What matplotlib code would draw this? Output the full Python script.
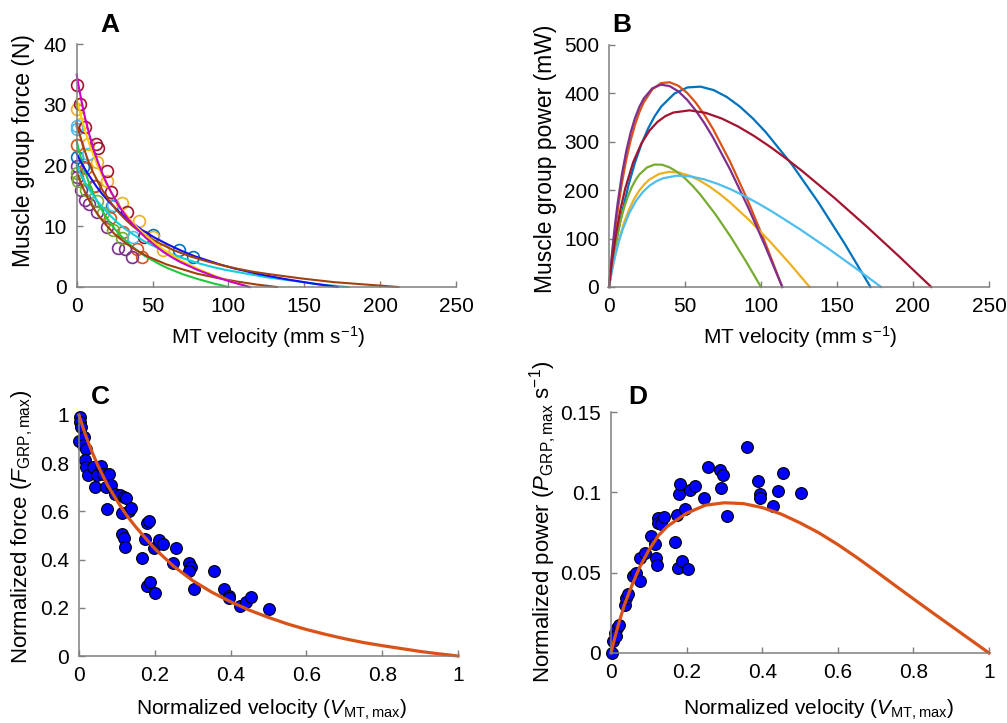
import matplotlib
matplotlib.use("Agg")
import matplotlib.pyplot as plt

plt.rcParams['font.family'] = ['Liberation Sans', 'DejaVu Sans']
plt.rcParams['mathtext.fontset'] = 'custom'
plt.rcParams['mathtext.rm'] = 'Liberation Sans'
plt.rcParams['mathtext.it'] = 'Liberation Sans:italic'
plt.rcParams['mathtext.bf'] = 'Liberation Sans:bold'

# ---------------- Panel A: measured points (velocity mm/s, force N) ----------------
circ_blue_v = [0, 4, 11.6, 23.1, 50.5, 67.5, 76.9]
circ_blue_f = [21.5, 19.8, 16.6, 13.3, 8.5, 6.1, 5.0]
circ_orange_v = [0, 6.2, 12.1, 22, 30.3, 39.6, 42.9]
circ_orange_f = [23.4, 19.6, 16.6, 11.3, 9.1, 6.2, 4.9]
circ_yellow_v = [0, 2.9, 7.7, 13.2, 20.2, 29.7, 41.3, 50.5, 57.1]
circ_yellow_f = [29.3, 26.8, 23.5, 20.6, 17.4, 13.8, 10.9, 8.3, 6.1]
circ_purple_v = [0, 0, 2.9, 5.5, 8.4, 13.2, 19.8, 27.5, 31.9, 36.3]
circ_purple_f = [19.9, 18.2, 16.0, 14.4, 13.7, 12.4, 9.9, 6.4, 6.2, 5.0]
circ_green_v = [0, 1.1, 6.2, 13.2, 17.6, 24.2, 29.7]
circ_green_f = [18.8, 17.4, 16.0, 14.1, 12.2, 9.4, 8.0]
circ_lblue_v = [0, 0, 7.7, 24.2, 37.4]
circ_lblue_f = [26.5, 26.0, 22.0, 13.5, 8.2]
circ_dred_v = [0.4, 2.2, 5.5, 12.7, 14.3, 19.8, 22.6, 33, 44.4]
circ_dred_f = [33.3, 30.1, 26.4, 23.6, 22.9, 19.2, 15.7, 12.4, 8.3]

# ---------------- Fitted curves: velocity samples, force (A) and power (B) ----------------
v_g1 = [0, 0.57, 1.14, 2.28, 3.99, 5.7, 8.55, 11.4, 14.25, 17.1, 19.95, 22.8, 28.5, 34.2,
        39.9, 45.6, 51.3, 57, 62.7, 68.4, 79.8, 91.2, 102.6, 114]
f_g1 = [35, 34.1, 33.3, 31.8, 29.6, 27.7, 24.9, 22.5, 20.4, 18.6, 17.0, 15.6, 13.1, 11.1,
        9.5, 8.1, 6.9, 5.8, 4.9, 4.1, 2.8, 1.7, 0.8, 0]
p_g1 = [0, 21.4, 41.7, 79.5, 129.8, 173.3, 233.7, 281.5, 319.3, 349.0, 371.9, 389.2, 410.5,
        418.0, 415.1, 404.2, 387.1, 364.9, 338.7, 309.1, 242.0, 166.8, 85.7, 0]

v_g2 = [0, 0.57, 1.14, 2.28, 3.99, 5.7, 8.55, 11.4, 14.25, 17.1, 19.95, 22.8, 28.5, 34.2,
        39.9, 45.6, 51.3, 57, 62.7, 68.4, 79.8, 91.2, 102.6, 114]
f_g2 = [31, 30.4, 29.8, 28.7, 27.1, 25.6, 23.4, 21.5, 19.7, 18.2, 16.8, 15.5, 13.3, 11.4,
        9.8, 8.5, 7.3, 6.2, 5.3, 4.4, 3.0, 1.8, 0.8, 0]
p_g2 = [0, 18.7, 36.6, 70.5, 116.5, 157.4, 215.8, 263.9, 303.2, 335.1, 360.8, 381.2, 408.4,
        421.3, 423.0, 415.8, 401.4, 381.2, 356.0, 326.7, 258.2, 179.4, 92.7, 0]

v_g3 = [0, 0.86, 1.72, 3.44, 6.02, 8.6, 12.9, 17.2, 21.5, 25.8, 30.1, 34.4, 43, 51.6, 60.2,
        68.8, 77.4, 86, 94.6, 103.2, 120.4, 137.6, 154.8, 172]
f_g3 = [22, 21.6, 21.1, 20.3, 19.2, 18.2, 16.6, 15.2, 14.0, 12.9, 11.9, 11.0, 9.4, 8.1, 7.0,
        6.0, 5.1, 4.4, 3.7, 3.1, 2.1, 1.3, 0.6, 0]
p_g3 = [0, 18.3, 35.9, 69.0, 114.0, 154.1, 211.2, 258.2, 296.7, 328.0, 353.1, 373.0, 399.6,
        412.3, 414.0, 406.9, 392.8, 373.0, 348.4, 319.7, 252.7, 175.5, 90.7, 0]

v_g4 = [0, 1.06, 2.12, 4.24, 7.42, 10.6, 15.9, 21.2, 26.5, 31.8, 37.1, 42.4, 53, 63.6, 74.2,
        84.8, 95.4, 106, 116.6, 127.2, 148.4, 169.6, 190.8, 212]
f_g4 = [27, 26.0, 25.0, 23.2, 20.9, 19.0, 16.4, 14.3, 12.6, 11.2, 10.0, 9.0, 7.4, 6.1, 5.1,
        4.3, 3.6, 3.0, 2.5, 2.1, 1.4, 0.8, 0.4, 0]
p_g4 = [0, 29.0, 55.5, 101.9, 158.3, 202.7, 257.7, 295.9, 322.6, 340.9, 353.1, 360.5, 365.0,
        359.8, 348.1, 331.8, 312.1, 289.7, 265.3, 239.3, 183.8, 124.8, 63.3, 0]

v_g5 = [0, 0.5, 1, 2, 3.5, 5, 7.5, 10, 12.5, 15, 17.5, 20, 25, 30, 35, 40, 45, 50, 55, 60,
        70, 80, 90, 100]
f_g5 = [24, 23.5, 23.0, 22.0, 20.6, 19.4, 17.6, 16.0, 14.6, 13.4, 12.3, 11.3, 9.6, 8.2, 7.0,
        6.0, 5.1, 4.4, 3.7, 3.1, 2.1, 1.3, 0.6, 0]
p_g5 = [0, 12.1, 23.6, 45.2, 74.3, 99.9, 135.7, 164.7, 187.9, 206.5, 221.1, 232.5, 247.0,
        253.0, 252.6, 247.0, 237.4, 224.5, 209.0, 191.2, 150.3, 104.0, 53.6, 0]

v_g6 = [0, 0.66, 1.32, 2.64, 4.62, 6.6, 9.9, 13.2, 16.5, 19.8, 23.1, 26.4, 33, 39.6, 46.2,
        52.8, 59.4, 66, 72.6, 79.2, 92.4, 105.6, 118.8, 132]
f_g6 = [19, 18.5, 18.1, 17.2, 16.1, 15.0, 13.5, 12.2, 11.1, 10.1, 9.2, 8.4, 7.1, 6.0, 5.1,
        4.4, 3.7, 3.2, 2.7, 2.2, 1.5, 0.9, 0.4, 0]
p_g6 = [0, 12.2, 23.7, 45.2, 73.9, 98.7, 133.1, 160.3, 181.8, 198.7, 211.7, 221.6, 233.7,
        238.0, 236.3, 230.1, 220.4, 207.7, 192.8, 176.0, 137.8, 95.0, 48.8, 0]

v_g7 = [0, 0.895, 1.79, 3.58, 6.265, 8.95, 13.425, 17.9, 22.375, 26.85, 31.325, 35.8, 44.75,
        53.7, 62.65, 71.6, 80.55, 89.5, 98.45, 107.4, 125.3, 143.2, 161.1, 179]
f_g7 = [20, 19.5, 19.0, 18.1, 16.9, 15.8, 14.2, 12.9, 11.7, 10.6, 9.7, 8.9, 7.5, 6.4, 5.4,
        4.6, 3.9, 3.3, 2.8, 2.4, 1.6, 1.0, 0.4, 0]
p_g7 = [0, 16.2, 31.2, 58.0, 91.5, 118.7, 153.4, 178.6, 196.7, 209.8, 218.9, 224.9, 230.0,
        228.5, 222.4, 213.0, 201.2, 187.4, 172.1, 155.7, 120.0, 81.8, 41.6, 0]

# ---------------- Panels C & D: normalized data ----------------
c_v = [0.002, 0.002, 0.004, 0.0, 0.012, 0.011, 0.019, 0.015, 0.018, 0.025, 0.041, 0.037,
       0.047, 0.059, 0.063, 0.079, 0.072, 0.085, 0.094, 0.107, 0.12, 0.125, 0.074, 0.113,
       0.132, 0.138, 0.113, 0.118, 0.121, 0.179, 0.184, 0.175, 0.197, 0.211, 0.221, 0.167,
       0.256, 0.249, 0.289, 0.296, 0.289, 0.179, 0.188, 0.201, 0.304, 0.355, 0.383, 0.395,
       0.396, 0.425, 0.44, 0.454, 0.5]
c_f = [0.99, 0.97, 0.95, 0.894, 0.908, 0.874, 0.86, 0.812, 0.785, 0.75, 0.702, 0.785,
       0.75, 0.79, 0.757, 0.757, 0.702, 0.709, 0.672, 0.668, 0.661, 0.654, 0.609, 0.595,
       0.602, 0.616, 0.506, 0.49, 0.451, 0.551, 0.562, 0.486, 0.45, 0.483, 0.465, 0.405,
       0.449, 0.387, 0.387, 0.37, 0.353, 0.291, 0.307, 0.261, 0.277, 0.354, 0.277, 0.25,
       0.239, 0.209, 0.225, 0.246, 0.195]

d_v = [0.002, 0.006, 0.011, 0.017, 0.022, 0.012, 0.037, 0.041, 0.046, 0.059, 0.067, 0.076,
       0.076, 0.089, 0.107, 0.116, 0.12, 0.122, 0.125, 0.125, 0.133, 0.139, 0.168, 0.177,
       0.189, 0.204, 0.175, 0.197, 0.179, 0.183, 0.21, 0.221, 0.247, 0.256, 0.289, 0.297,
       0.291, 0.307, 0.361, 0.388, 0.394, 0.394, 0.429, 0.443, 0.456, 0.503]
d_p = [0.0, 0.0073, 0.0124, 0.0156, 0.0176, 0.0104, 0.030, 0.034, 0.037, 0.0477, 0.0498, 0.0446,
       0.059, 0.062, 0.073, 0.068, 0.059, 0.055, 0.084, 0.081, 0.0805, 0.0849, 0.069, 0.0529,
       0.0575, 0.0525, 0.086, 0.0898, 0.099, 0.105, 0.1017, 0.1037, 0.0965, 0.116, 0.114, 0.111,
       0.103, 0.0855, 0.128, 0.107, 0.099, 0.0965, 0.0913, 0.1006, 0.112, 0.0996]

fit_v = [0, 0.01, 0.02, 0.035, 0.05, 0.075, 0.1, 0.125, 0.15, 0.2, 0.25, 0.3, 0.35, 0.4, 0.45,
         0.5, 0.55, 0.6, 0.65, 0.7, 0.75, 0.8, 0.85, 0.9, 0.95, 1.0]
fit_f = [1.0, 0.95, 0.905, 0.845, 0.79, 0.71, 0.645, 0.585, 0.535, 0.445, 0.372, 0.313, 0.265,
         0.225, 0.19, 0.16, 0.133, 0.11, 0.09, 0.072, 0.056, 0.043, 0.031, 0.019, 0.009, 0.0]
fit_p = [0.0, 0.0095, 0.018, 0.0296, 0.039, 0.053, 0.064, 0.073, 0.079, 0.087, 0.092, 0.0935,
         0.093, 0.0905, 0.0865, 0.081, 0.0748, 0.0675, 0.0595, 0.051, 0.0423, 0.0337, 0.0252,
         0.0168, 0.0084, 0.0]

# colours
mat_blue, mat_orange, mat_yellow = '#0072BD', '#D95319', '#EDB120'
mat_purple, mat_green, mat_lblue, mat_dred = '#7E2F8E', '#77AC30', '#4DBEEE', '#A2142F'
fit_magenta, fit_gold, fit_blue = '#C800C8', '#FFD000', '#1010F0'
fit_brown, fit_green, fit_cyan = '#A4400C', '#20C840', '#10D0D8'
spine_gray = '#7f7f7f'

fig = plt.figure(figsize=(10.07, 7.23), dpi=100)
W, H = 1007.0, 723.0


def make_ax(l, r, t, b):
    ax = fig.add_axes([l / W, 1 - b / H, (r - l) / W, (b - t) / H])
    for s in ('top', 'right'):
        ax.spines[s].set_visible(False)
    for s in ('left', 'bottom'):
        ax.spines[s].set_color(spine_gray)
        ax.spines[s].set_linewidth(1.1)
    ax.tick_params(direction='in', length=4, width=1, color=spine_gray,
                   labelsize=15, pad=7, labelcolor='black')
    return ax


def place_labels(ax, xl, xc, yl, yc, xfs=15, yfs=15):
    ax.set_xlabel(xl, fontsize=xfs)
    ax.set_ylabel(yl, fontsize=yfs)
    ax.xaxis.label.set_verticalalignment('center')
    ax.yaxis.label.set_verticalalignment('center')
    ax.xaxis.set_label_coords(*xc)
    ax.yaxis.set_label_coords(*yc)


# ---------------- A ----------------
axA = make_ax(76.7, 456, 44.3, 287)
circ_sets = [(circ_blue_v, circ_blue_f, mat_blue), (circ_orange_v, circ_orange_f, mat_orange),
             (circ_yellow_v, circ_yellow_f, mat_yellow), (circ_purple_v, circ_purple_f, mat_purple),
             (circ_green_v, circ_green_f, mat_green), (circ_lblue_v, circ_lblue_f, mat_lblue),
             (circ_dred_v, circ_dred_f, mat_dred)]
for vv, ff, cc in circ_sets:
    axA.plot(vv, ff, 'o', mfc='none', mec=cc, ms=8.5, mew=1.2, ls='none', clip_on=False)
a_curves = [(v_g5, f_g5, fit_green), (v_g7, f_g7, fit_cyan), (v_g6, f_g6, fit_brown),
            (v_g3, f_g3, fit_blue), (v_g4, f_g4, fit_brown), (v_g2, f_g2, fit_gold),
            (v_g1, f_g1, fit_magenta)]
for vv, ff, cc in a_curves:
    axA.plot(vv, ff, color=cc, lw=1.5, clip_on=False)
axA.set_xlim(0, 250)
axA.set_ylim(0, 40)
axA.set_xticks([0, 50, 100, 150, 200, 250])
axA.set_yticks([0, 10, 20, 30, 40])
place_labels(axA, 'MT velocity (mm s$^{-1}$)', (0.504, -0.206),
             'Muscle group force (N)', (-0.1415, 0.564), 15, 16.5)

# ---------------- B ----------------
axB = make_ax(609, 989, 45, 287)
b_curves = [(v_g3, p_g3, mat_blue), (v_g2, p_g2, mat_orange), (v_g6, p_g6, mat_yellow),
            (v_g1, p_g1, mat_purple), (v_g5, p_g5, mat_green), (v_g7, p_g7, mat_lblue),
            (v_g4, p_g4, mat_dred)]
for vv, pp, cc in b_curves:
    axB.plot(vv, pp, color=cc, lw=1.6, clip_on=False)
axB.set_xlim(0, 250)
axB.set_ylim(0, 500)
axB.set_xticks([0, 50, 100, 150, 200, 250])
axB.set_yticks([0, 100, 200, 300, 400, 500])
place_labels(axB, 'MT velocity (mm s$^{-1}$)', (0.503, -0.206),
             'Muscle group power (mW)', (-0.166, 0.529), 15, 16.5)

# ---------------- C ----------------
axC = make_ax(79, 458, 415, 656)
axC.plot(c_v, c_f, 'o', mfc='#0000FF', mec='black', mew=0.8, ms=8.5, ls='none', clip_on=False)
axC.plot(fit_v, fit_f, color=mat_orange, lw=2.3, clip_on=False)
axC.set_xlim(0, 1)
axC.set_ylim(0, 1)
axC.set_xticks([0, 0.2, 0.4, 0.6, 0.8, 1])
axC.set_xticklabels(['0', '0.2', '0.4', '0.6', '0.8', '1'])
axC.set_yticks([0, 0.2, 0.4, 0.6, 0.8, 1])
axC.set_yticklabels(['0', '0.2', '0.4', '0.6', '0.8', '1'])
place_labels(axC, 'Normalized velocity ($V_{\\mathrm{MT,max}}$)', (0.509, -0.224),
             'Normalized force ($F_{\\mathrm{GRP,max}}$)', (-0.150, 0.535), 15, 16)

# ---------------- D ----------------
axD = make_ax(611, 989, 412, 653)
axD.plot(d_v, d_p, 'o', mfc='#0000FF', mec='black', mew=0.8, ms=8.5, ls='none', clip_on=False)
axD.plot(fit_v, fit_p, color=mat_orange, lw=2.3, clip_on=False)
axD.set_xlim(0, 1)
axD.set_ylim(0, 0.15)
axD.set_xticks([0, 0.2, 0.4, 0.6, 0.8, 1])
axD.set_xticklabels(['0', '0.2', '0.4', '0.6', '0.8', '1'])
axD.set_yticks([0, 0.05, 0.1, 0.15])
axD.set_yticklabels(['0', '0.05', '0.1', '0.15'])
place_labels(axD, 'Normalized velocity ($V_{\\mathrm{MT,max}}$)', (0.548, -0.237),
             'Normalized power ($P_{\\mathrm{GRP,max}}$ s$^{-1}$)', (-0.18, 0.544), 15, 16)

# panel letters
for letter, px, py in [('A', 110, 25), ('B', 622, 25), ('C', 100, 397), ('D', 638, 397)]:
    fig.text(px / W, 1 - py / H, letter, fontsize=19, fontweight='bold',
             ha='center', va='center')

fig.savefig('out.png', dpi=100)
